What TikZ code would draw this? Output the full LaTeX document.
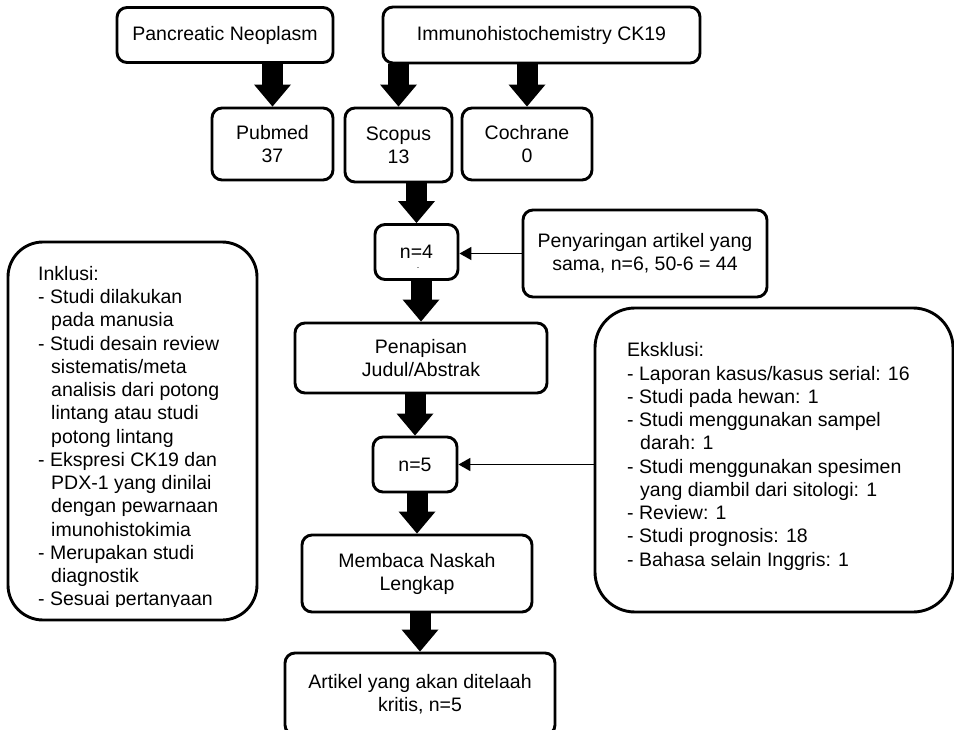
\documentclass[tikz,border=0pt]{standalone}
\usepackage{fontspec}
\setmainfont{Liberation Sans}
\usetikzlibrary{arrows.meta}

\tikzstyle{bS}=[draw,line width=2.9pt,rounded corners=10pt,inner sep=0pt,align=center,font=\fontsize{19.5}{23}\selectfont]
\tikzstyle{lS}=[draw,line width=2.9pt,inner sep=0pt]
\tikzstyle{xS}=[inner sep=0pt,align=left,anchor=north west,font=\fontsize{19.5}{23.25}\selectfont]
\tikzstyle{tS}=[line width=1.8pt,-{Triangle[length=12pt,width=13pt]}]
\tikzstyle{aS}=[line width=21pt,-{Triangle[length=22pt,width=37pt,line width=0pt]}]

\begin{document}
\begin{tikzpicture}[x=1pt,y=-1pt]
                \useasboundingbox (0,0) rectangle (954,730);
                \draw (225,35) node[bS,minimum width=216,minimum height=55] (pan) {Pancreatic Neoplasm};
                \draw (541.5,35) node[bS,minimum width=317,minimum height=56] (imm) {Immunohistochemistry CK19};
                \draw (272.5,144) node[bS,minimum width=121,minimum height=72] (pub) {Pubmed\\37};
                \draw (398.5,145) node[bS,minimum width=107,minimum height=74] (sco) {Scopus\\13};
                \draw (527,144) node[bS,minimum width=130,minimum height=72] (coc) {Cochrane\\0};
                \draw (416.5,252) node[bS,minimum width=83,minimum height=55] (n4) {n=4};
                \draw (418,268) node[inner sep=0pt,font=\small] (n4dot) {.};
                \draw (645,253.5) node[bS,minimum width=244,minimum height=87] (pen1) {Penyaringan artikel yang\\sama, n=6, 50-6 = 44};
                \draw (421,358) node[bS,minimum width=252,minimum height=70] (pen2) {Penapisan\\Judul/Abstrak};
                \draw (415,464.5) node[bS,minimum width=84,minimum height=55] (n5) {n=5};
                \draw (417,573.5) node[bS,minimum width=230,minimum height=77] (mem) {Membaca Naskah\\Lengkap};
                \draw (420,694) node[bS,minimum width=270,minimum height=82] (art) {Artikel yang akan ditelaah\\kritis, n=5};
                % kotak kriteria
                \draw (774,460) node[lS,rounded corners=40pt,minimum width=358,minimum height=304] (eks) {};
                \draw (627,342.5) node[xS] (eksT) {Eksklusi:\\- Laporan kasus/kasus serial: 16\\- Studi pada hewan: 1\\- Studi menggunakan sampel\\\hspace*{13pt}darah: 1\\- Studi menggunakan spesimen\\\hspace*{13pt}yang diambil dari sitologi: 1\\- Review: 1\\- Studi prognosis: 18\\- Bahasa selain Inggris: 1};
                \draw (132.5,431) node[lS,rounded corners=35pt,minimum width=249,minimum height=378] (ink) {};
                \begin{scope}
                \clip (0,0) rectangle (954,606);
                \draw (38,266) node[xS] (inkT) {Inklusi:\\- Studi dilakukan\\\hspace*{13pt}pada manusia\\- Studi desain review\\\hspace*{13pt}sistematis/meta\\\hspace*{13pt}analisis dari potong\\\hspace*{13pt}lintang atau studi\\\hspace*{13pt}potong lintang\\- Ekspresi CK19 dan\\\hspace*{13pt}PDX-1 yang dinilai\\\hspace*{13pt}dengan pewarnaan\\\hspace*{13pt}imunohistokimia\\- Merupakan studi\\\hspace*{13pt}diagnostik\\- Sesuai pertanyaan};
                \end{scope}
                \path
                    (pan.south -| pub.north) edge[aS] (pub.north)
                    (imm.south -| sco.north) edge[aS] (sco.north)
                    (imm.south -| coc.north) edge[aS] (coc.north)
                    (sco.south -| n4.north) edge[aS] (n4.north)
                    (n4.south -| pen2.north) edge[aS] (pen2.north)
                    (pen2.south -| n5.north) edge[aS] (n5.north)
                    (n5.south -| mem.north) edge[aS] (mem.north)
                    (mem.south -| art.north) edge[aS] (art.north)
                    (pen1.west) edge[tS] (pen1.west -| n4.east)
                    (n5.east -| eks.west) edge[tS] (n5.east)
                ;
        \end{tikzpicture}
\end{document}
